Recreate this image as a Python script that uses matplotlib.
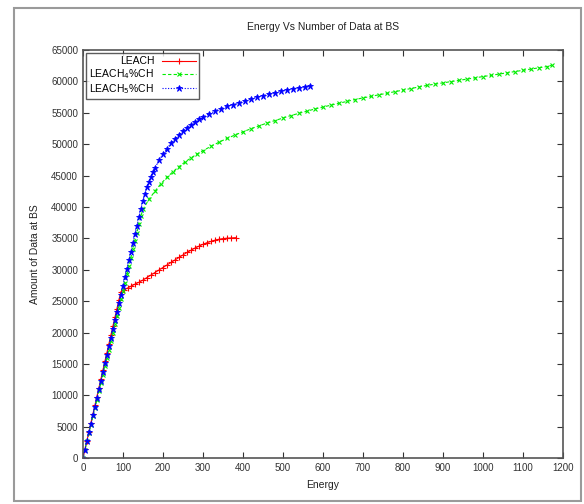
import matplotlib
matplotlib.use("Agg")
import matplotlib.pyplot as plt
from matplotlib.patches import Rectangle

# --- data ---
leach_x = [0, 5, 10, 15, 20, 25, 30, 35, 40, 45, 50, 55, 60, 65, 70, 75, 80, 85, 90, 95,
           103, 112, 121, 130, 140, 150, 160, 170, 180, 190, 200, 210, 220, 230, 240,
           250, 260, 270, 280, 290, 300, 310, 320, 330, 340, 350, 360, 370, 382]
leach_y = [0, 1400, 2800, 4200, 5600, 7000, 8400, 9800, 11200, 12600, 14000, 15400,
           16800, 18200, 19600, 21000, 22400, 23800, 25200, 26500,
           26800, 27100, 27400, 27700, 28000, 28350, 28750, 29150, 29550, 29950, 30350,
           30750, 31150, 31550, 31950, 32350, 32750, 33100, 33450, 33750, 34050, 34300,
           34500, 34700, 34850, 34950, 35020, 35060, 35100]

leach4_x = [0, 5, 10, 15, 20, 25, 30, 35, 40, 45, 50, 55, 60, 65, 70, 75, 80, 85, 90, 95,
            100, 105, 110, 115, 120, 125, 130, 135, 140, 145, 150,
            165, 180, 195, 210, 225, 240, 255, 270, 285, 300, 320, 340, 360, 380, 400,
            420, 440, 460, 480, 500, 520, 540, 560, 580, 600, 620, 640, 660, 680, 700,
            720, 740, 760, 780, 800, 820, 840, 860, 880, 900, 920, 940, 960, 980, 1000,
            1020, 1040, 1060, 1080, 1100, 1120, 1140, 1160, 1172]
leach4_y = [0, 1330, 2660, 3990, 5320, 6650, 7980, 9310, 10640, 11970, 13300, 14630,
            15960, 17290, 18620, 19950, 21280, 22610, 23940, 25270, 26600, 27930, 29260,
            30590, 31920, 33250, 34580, 35910, 37240, 38570, 39600,
            41200, 42500, 43700, 44700, 45600, 46400, 47150, 47800, 48400, 48950, 49650,
            50300, 50900, 51450, 51950, 52450, 52900, 53350, 53750, 54150, 54550, 54900,
            55250, 55600, 55900, 56200, 56500, 56800, 57100, 57350, 57600, 57850, 58100,
            58350, 58600, 58850, 59100, 59350, 59550, 59750, 59950, 60150, 60350, 60550,
            60750, 60950, 61150, 61350, 61550, 61750, 61950, 62150, 62350, 62550]

leach5_x = [0, 5, 10, 15, 20, 25, 30, 35, 40, 45, 50, 55, 60, 65, 70, 75, 80, 85, 90, 95,
            100, 105, 110, 115, 120, 125, 130, 135, 140, 145,
            150, 155, 160, 165, 170, 175, 180, 190, 200, 210, 220, 230, 240, 250, 260,
            270, 280, 290, 300, 315, 330, 345, 360, 375, 390, 405, 420, 435, 450, 465,
            480, 495, 510, 525, 540, 555, 567]
leach5_y = [0, 1370, 2740, 4110, 5480, 6850, 8220, 9590, 10960, 12330, 13700, 15070,
            16440, 17810, 19180, 20550, 21920, 23290, 24660, 26030, 27400, 28770, 30140,
            31510, 32880, 34250, 35620, 36990, 38360, 39700,
            41000, 42100, 43100, 44000, 44800, 45500, 46200, 47400, 48400, 49300, 50100,
            50800, 51450, 52050, 52600, 53100, 53550, 53950, 54300, 54800, 55250, 55650,
            56000, 56300, 56600, 56900, 57200, 57450, 57700, 57950, 58200, 58400, 58600,
            58800, 59000, 59150, 59250]

labels = ["LEACH", r"LEACH$_4$%CH", r"LEACH$_5$%CH"]

plt.rcParams["font.family"] = ["Liberation Sans", "DejaVu Sans"]

fig = plt.figure(figsize=(5.84, 5.04), dpi=100)
ax = fig.add_axes([0.142, 0.091, 0.822, 0.810])

# outer frame around the picture
fig.patches.append(Rectangle((14 / 584, 1 - 501 / 504), 567 / 584, 493 / 504,
                             transform=fig.transFigure, fill=False,
                             edgecolor="#9a9a9a", linewidth=1.5))

ax.plot(leach_x, leach_y, color="#ff0000", marker="+", markersize=4,
        linewidth=0.8, markeredgewidth=0.8, label=labels[0])
ax.plot(leach4_x, leach4_y, color="#00ee00", marker="x", markersize=3.5,
        linewidth=0.8, markeredgewidth=0.8, linestyle=(0, (3, 2)), label=labels[1])
ax.plot(leach5_x, leach5_y, color="#0000ff", marker="*", markersize=5,
        linewidth=0.8, markeredgewidth=0.6, linestyle=(0, (1, 1.5)), label=labels[2])

ax.set_xlim(0, 1200)
ax.set_ylim(0, 65000)
ax.set_xticks(range(0, 1201, 100))
ax.set_yticks(range(0, 65001, 5000))
ax.tick_params(direction="in", top=True, right=True, labelsize=7, length=4,
               colors="#333333", labelcolor="#333333")
for s in ax.spines.values():
    s.set_color("#555555")
    s.set_linewidth(1.2)

ax.set_title("Energy Vs Number of Data at BS", fontsize=7.5, pad=14, color="#222222")
ax.set_xlabel("Energy", fontsize=7.5, labelpad=5, color="#222222")
ax.set_ylabel("Amount of Data at BS", fontsize=7.5, labelpad=8, color="#222222")

leg = ax.legend(loc="upper left", markerfirst=False, fontsize=7.5, frameon=True,
                fancybox=False, edgecolor="#333333", handlelength=3.2,
                borderpad=0.3, labelspacing=0.1, handletextpad=0.8,
                borderaxespad=0.3)
leg.get_frame().set_linewidth(1.0)
for t in leg.get_texts():
    t.set_ha("right")

fig.savefig("out.png", dpi=100)
